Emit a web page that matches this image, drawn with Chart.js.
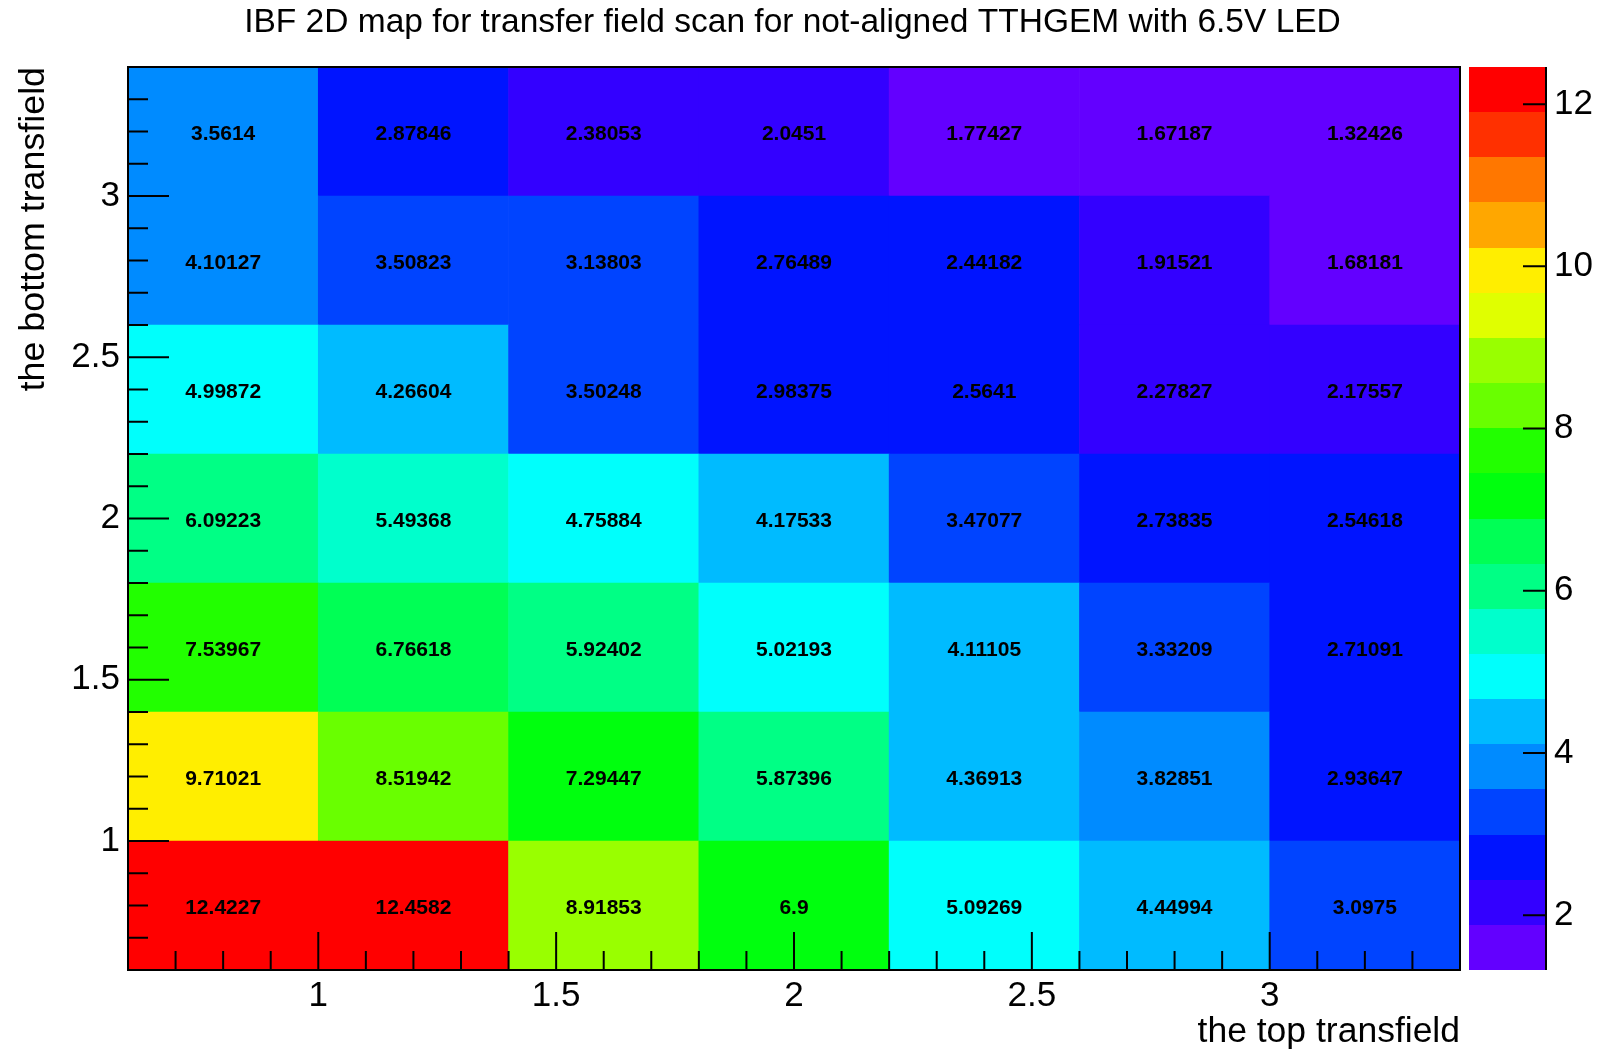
<!DOCTYPE html>
<html>
<head>
<meta charset="utf-8">
<title>IBF 2D map</title>
<script src="https://cdn.jsdelivr.net/npm/chart.js@4.4.1/dist/chart.umd.min.js"></script>
<style>
  html, body { margin: 0; padding: 0; background: #fff; }
</style>
</head>
<body>
<canvas id="myChart" width="1601" height="1053"></canvas>
<script>
// bin centres (top transfield on x, bottom transfield on y)
var xCenters = [0.8, 1.2, 1.6, 2.0, 2.4, 2.8, 3.2];
var yCenters = [0.8, 1.2, 1.6, 2.0, 2.4, 2.8, 3.2];
var binWidth = 0.4;

// IBF values, one array per row (y bin), left to right
var row08 = [12.4227, 12.4582, 8.91853, 6.9, 5.09269, 4.44994, 3.0975];
var row12 = [9.71021, 8.51942, 7.29447, 5.87396, 4.36913, 3.82851, 2.93647];
var row16 = [7.53967, 6.76618, 5.92402, 5.02193, 4.11105, 3.33209, 2.71091];
var row20 = [6.09223, 5.49368, 4.75884, 4.17533, 3.47077, 2.73835, 2.54618];
var row24 = [4.99872, 4.26604, 3.50248, 2.98375, 2.5641, 2.27827, 2.17557];
var row28 = [4.10127, 3.50823, 3.13803, 2.76489, 2.44182, 1.91521, 1.68181];
var row32 = [3.5614, 2.87846, 2.38053, 2.0451, 1.77427, 1.67187, 1.32426];
var rows = [row08, row12, row16, row20, row24, row28, row32];

// axis ticks
var xTicks = [1, 1.5, 2, 2.5, 3];
var yTicks = [1, 1.5, 2, 2.5, 3];
var xMinor = [0.7, 0.8, 0.9, 1.1, 1.2, 1.3, 1.4, 1.6, 1.7, 1.8, 1.9, 2.1, 2.2, 2.3, 2.4, 2.6, 2.7, 2.8, 2.9, 3.1, 3.2, 3.3];
var yMinor = [0.7, 0.8, 0.9, 1.1, 1.2, 1.3, 1.4, 1.6, 1.7, 1.8, 1.9, 2.1, 2.2, 2.3, 2.4, 2.6, 2.7, 2.8, 2.9, 3.1, 3.2, 3.3];
var zTicks = [2, 4, 6, 8, 10, 12];
var zMin = 1.32426;
var zMax = 12.4582;

// 20 colour contours, bottom to top
var palette = [
  'rgb(99,0,255)', 'rgb(51,0,255)', 'rgb(0,20,255)', 'rgb(0,68,255)', 'rgb(0,139,255)',
  'rgb(0,187,255)', 'rgb(0,255,252)', 'rgb(0,255,204)', 'rgb(0,255,133)', 'rgb(0,255,85)',
  'rgb(0,255,14)', 'rgb(34,255,0)', 'rgb(105,255,0)', 'rgb(153,255,0)', 'rgb(224,255,0)',
  'rgb(255,238,0)', 'rgb(255,167,0)', 'rgb(255,119,0)', 'rgb(255,48,0)', 'rgb(255,0,0)'
];

var FONT = "'Liberation Sans', Arial, Helvetica, sans-serif";

function colorFor(v) {
  var k = Math.floor((v - zMin) / (zMax - zMin) * palette.length);
  if (k < 0) k = 0;
  if (k > palette.length - 1) k = palette.length - 1;
  return palette[k];
}

function plainLabel(v) { return String(v); }

// no label overflow padding, the boxes are sized by hand
function noPad(s) { s.paddingTop = 0; s.paddingBottom = 0; s.paddingLeft = 0; s.paddingRight = 0; }

var datasets = rows.map(function (vals, r) {
  return {
    label: 'y = ' + yCenters[r],
    data: vals.map(function (v, i) {
      return { x: xCenters[i], y: [yCenters[r] - binWidth / 2, yCenters[r] + binWidth / 2] };
    }),
    backgroundColor: vals.map(colorFor),
    borderWidth: 0,
    barPercentage: 1,
    categoryPercentage: 1,
    grouped: false
  };
});

// cell texts, frame, inner ticks and the colour bar
var rootLook = {
  id: 'rootLook',
  afterDatasetsDraw: function (chart) {
    var ctx = chart.ctx;
    var area = chart.chartArea;
    var xs = chart.scales.x, ys = chart.scales.y, zs = chart.scales.z;

    // values in the cells
    ctx.save();
    ctx.fillStyle = '#000';
    ctx.font = 'bold 21px ' + FONT;
    ctx.textAlign = 'center';
    ctx.textBaseline = 'middle';
    rows.forEach(function (vals, r) {
      var meta = chart.getDatasetMeta(r);
      meta.data.forEach(function (el, i) {
        ctx.fillText(String(vals[i]), el.x, (el.y + el.base) / 2 + 3);
      });
    });
    ctx.restore();

    // frame + ticks
    ctx.save();
    ctx.strokeStyle = '#000';
    ctx.lineWidth = 2;
    ctx.strokeRect(area.left, area.top, area.right - area.left, area.bottom - area.top);
    ctx.beginPath();
    xTicks.forEach(function (v) {
      var px = xs.getPixelForValue(v);
      ctx.moveTo(px, area.bottom); ctx.lineTo(px, area.bottom - 38);
    });
    xMinor.forEach(function (v) {
      var px = xs.getPixelForValue(v);
      ctx.moveTo(px, area.bottom); ctx.lineTo(px, area.bottom - 19);
    });
    yTicks.forEach(function (v) {
      var py = ys.getPixelForValue(v);
      ctx.moveTo(area.left, py); ctx.lineTo(area.left + 41, py);
    });
    yMinor.forEach(function (v) {
      var py = ys.getPixelForValue(v);
      ctx.moveTo(area.left, py); ctx.lineTo(area.left + 20, py);
    });
    ctx.stroke();
    ctx.restore();

    // colour bar
    var bx0 = area.right + 9, bx1 = area.right + 86;
    var step = (zMax - zMin) / palette.length;
    ctx.save();
    palette.forEach(function (c, k) {
      var yLo = zs.getPixelForValue(zMin + k * step);
      var yHi = zs.getPixelForValue(zMin + (k + 1) * step);
      ctx.fillStyle = c;
      ctx.fillRect(bx0, Math.round(yHi), bx1 - bx0, Math.round(yLo) - Math.round(yHi));
    });
    ctx.strokeStyle = '#000';
    ctx.lineWidth = 2;
    ctx.beginPath();
    ctx.moveTo(bx1, area.top); ctx.lineTo(bx1, area.bottom);
    zTicks.forEach(function (v) {
      var py = zs.getPixelForValue(v);
      ctx.moveTo(bx1, py); ctx.lineTo(bx1 - 23, py);
    });
    ctx.stroke();
    ctx.restore();
  }
};

var ctx = document.getElementById('myChart').getContext('2d');
var chart = new Chart(ctx, {
  type: 'bar',
  data: { datasets: datasets },
  plugins: [rootLook],
  options: {
    responsive: false,
    animation: false,
    devicePixelRatio: 1,
    events: [],
    // left -16 keeps the title centred where ROOT put it
    layout: { padding: { left: -16, right: 0, top: 0, bottom: 0 } },
    plugins: {
      legend: { display: false },
      tooltip: { enabled: false },
      title: {
        display: true,
        text: 'IBF 2D map for transfer field scan for not-aligned TTHGEM with 6.5V LED',
        color: '#000',
        font: { family: FONT, size: 33.5, weight: 'normal', lineHeight: 1.2 },
        padding: { top: 3, bottom: 23.8 }
      }
    },
    scales: {
      x: {
        type: 'linear',
        position: 'bottom',
        min: 0.6,
        max: 3.4,
        offset: false,
        grid: { display: false, drawTicks: false },
        border: { display: false },
        ticks: { color: '#000', font: { family: FONT, size: 35 }, padding: 5, maxRotation: 0, autoSkip: false, callback: plainLabel },
        title: {
          display: true, text: 'the top transfield', align: 'end', color: '#000',
          font: { family: FONT, size: 35.5, lineHeight: 1.15 }, padding: { top: 0, bottom: 0 }
        },
        afterBuildTicks: function (s) { s.ticks = xTicks.map(function (v) { return { value: v }; }); },
        afterFit: function (s) { s.height = 83; noPad(s); }
      },
      y: {
        type: 'linear',
        position: 'left',
        min: 0.6,
        max: 3.4,
        grid: { display: false, drawTicks: false },
        border: { display: false },
        ticks: { color: '#000', font: { family: FONT, size: 35 }, padding: 8, autoSkip: false, callback: plainLabel },
        title: {
          display: true, text: 'the bottom transfield', align: 'end', color: '#000',
          font: { family: FONT, size: 35.8, lineHeight: 1.15 }, padding: { top: 30, bottom: 0 }
        },
        afterBuildTicks: function (s) { s.ticks = yTicks.map(function (v) { return { value: v }; }); },
        afterFit: function (s) { s.width = 144; noPad(s); }
      },
      z: {
        type: 'linear',
        position: 'right',
        min: zMin,
        max: zMax,
        grid: { display: false, drawTicks: false },
        border: { display: false },
        ticks: { color: '#000', font: { family: FONT, size: 35 }, padding: 94, autoSkip: false, callback: plainLabel },
        afterBuildTicks: function (s) { s.ticks = zTicks.map(function (v) { return { value: v }; }); },
        afterFit: function (s) { s.width = 141; noPad(s); }
      }
    }
  }
});
</script>
</body>
</html>
